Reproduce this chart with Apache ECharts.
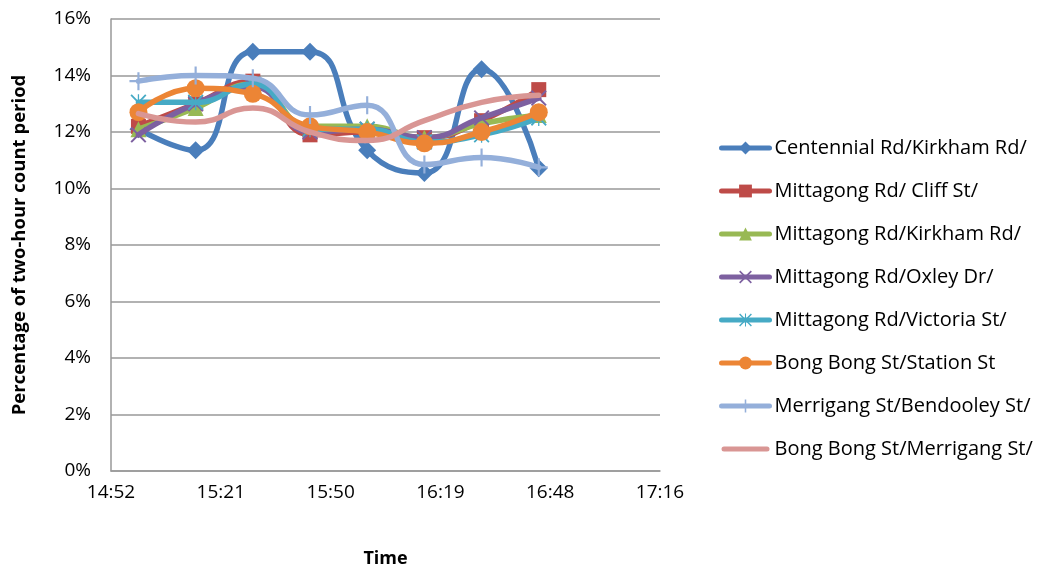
<!DOCTYPE html>
<html>
<head>
<meta charset="utf-8">
<script src="https://cdn.jsdelivr.net/npm/echarts@6/dist/echarts.min.js"></script>
<style>
html,body{margin:0;padding:0;background:#fff;}
#c{width:1043px;height:567px;}
</style>
</head>
<body>
<div id="c"></div>
<script>
var times = ['15:00','15:15','15:30','15:45','16:00','16:15','16:30','16:45'];
var xTickLabels = ['14:52','15:21','15:50','16:19','16:48','17:16'];
var yTickLabels = ['0%','2%','4%','6%','8%','10%','12%','14%','16%'];
var seriesNames = [
  'Centennial Rd/Kirkham Rd/',
  'Mittagong Rd/ Cliff St/',
  'Mittagong Rd/Kirkham Rd/',
  'Mittagong Rd/Oxley Dr/',
  'Mittagong Rd/Victoria St/',
  'Bong Bong St/Station St',
  'Merrigang St/Bendooley St/',
  'Bong Bong St/Merrigang St/'
];
var centennialKirkham = [12.1, 11.35, 14.84, 14.84, 11.35, 10.55, 14.22, 10.72];
var mittagongCliff    = [12.2, 13.0, 13.8, 11.9, 12.0, 11.8, 12.4, 13.5];
var mittagongKirkham  = [12.1, 12.85, 13.7, 12.2, 12.2, 11.8, 12.3, 12.6];
var mittagongOxley    = [11.9, 13.0, 13.6, 12.0, 12.1, 11.8, 12.5, 13.2];
var mittagongVictoria = [13.05, 13.05, 13.7, 12.1, 12.1, 11.65, 11.9, 12.5];
var bongBongStation   = [12.7, 13.55, 13.35, 12.2, 12.0, 11.6, 12.0, 12.7];
var merrigangBendooley= [13.8, 14.0, 13.9, 12.6, 12.95, 10.85, 11.1, 10.75];
var bongBongMerrigang = [12.65, 12.35, 12.85, 12.0, 11.7, 12.4, 13.05, 13.3];

var seriesValues = [centennialKirkham, mittagongCliff, mittagongKirkham, mittagongOxley,
  mittagongVictoria, bongBongStation, merrigangBendooley, bongBongMerrigang];

var colors = ['#4A7EBB','#BE4B48','#98B954','#7D60A0','#46AAC5','#EC8535','#94AFDA','#D99694'];
var pathX = 'path://M0,0.9 L0.9,0 L5,4.1 L9.1,0 L10,0.9 L5.9,5 L10,9.1 L9.1,10 L5,5.9 L0.9,10 L0,9.1 L4.1,5 Z';
var pathStar = 'path://M0,0.8 L0.8,0 L4.6,3.8 L4.6,0 L5.4,0 L5.4,3.8 L9.2,0 L10,0.8 L6.2,4.6 L6.2,5.4 L10,9.2 L9.2,10 L5.4,6.2 L5.4,10 L4.6,10 L4.6,6.2 L0.8,10 L0,9.2 L3.8,5.4 L3.8,4.6 Z';
var pathPlus = 'path://M4.4,0 L5.6,0 L5.6,4.4 L10,4.4 L10,5.6 L5.6,5.6 L5.6,10 L4.4,10 L4.4,5.6 L0,5.6 L0,4.4 L4.4,4.4 Z';
var pathBar = 'path://M2.5,0 L45.5,0 A2.5,2.5 0 0 1 45.5,5 L2.5,5 A2.5,2.5 0 0 1 2.5,0 Z';
var symbols = ['diamond','rect','triangle',pathX,pathStar,'circle',pathPlus,'none'];
var sizes = [18, 15, 16, 16, 16, 18, 18, 0];

function toMin(t){var p=t.split(':');return (+p[0])*60+(+p[1]);}
var xMin = 892.8, xStep = 28.8;

var series = seriesNames.map(function(n,i){
  return {
    name: n,
    type: 'line',
    smooth: 0.5,
    data: times.map(function(t,j){return [toMin(t), seriesValues[i][j]];}),
    symbol: symbols[i],
    symbolSize: sizes[i],
    showSymbol: symbols[i] !== 'none',
    lineStyle: {width: 5.5, color: colors[i], cap: 'round', join: 'round'},
    itemStyle: {color: colors[i], borderWidth: 0},
    emphasis: {disabled: true},
    z: 2 + i
  };
});

var legendData = seriesNames.map(function(n,i){
  return symbols[i] === 'none' ? {name: n, icon: pathBar} : {name: n};
});

var FONT = '"Open Sans", sans-serif';
var chart = echarts.init(document.getElementById('c'), null, {renderer:'canvas'});
chart.setOption({
  animation: false,
  backgroundColor: '#fff',
  textStyle: {fontFamily: FONT},
  grid: {left: 111, top: 19, right: 383, bottom: 96, containLabel: false, outerBoundsMode: 'none'},
  legend: {
    orient: 'vertical',
    left: 719, top: 137,
    padding: 0,
    itemWidth: 48, itemHeight: 16, itemGap: 21,
    symbolKeepAspect: true,
    lineStyle: {width: 5},
    textStyle: {fontSize: 20, lineHeight: 22, color: '#000', fontFamily: FONT},
    data: legendData
  },
  xAxis: {
    type: 'value',
    min: xMin, max: xMin + xStep*5, interval: xStep,
    name: 'Time', nameLocation: 'middle', nameGap: 79,
    nameTextStyle: {fontWeight: 'bold', fontSize: 18, color: '#000', fontFamily: FONT},
    axisLine: {show: true, lineStyle: {color: '#999', width: 1.5}},
    axisTick: {show: false},
    splitLine: {show: false},
    axisLabel: {
      fontSize: 19, color: '#000', margin: 12, fontFamily: FONT,
      formatter: function(v){return xTickLabels[Math.round((v - xMin)/xStep)];}
    }
  },
  yAxis: {
    type: 'value',
    min: 0, max: 16, interval: 2,
    name: 'Percentage of two-hour count period', nameLocation: 'middle', nameGap: 82,
    nameTextStyle: {fontWeight: 'bold', fontSize: 18.5, color: '#000', fontFamily: FONT},
    axisLine: {show: true, lineStyle: {color: '#999', width: 1.5}},
    axisTick: {show: false},
    splitLine: {show: true, lineStyle: {color: '#999', width: 1.5}},
    axisLabel: {
      fontSize: 19, color: '#000', margin: 20, fontFamily: FONT,
      formatter: function(v){return yTickLabels[Math.round(v/2)];}
    }
  },
  series: series
});
</script>
</body>
</html>
